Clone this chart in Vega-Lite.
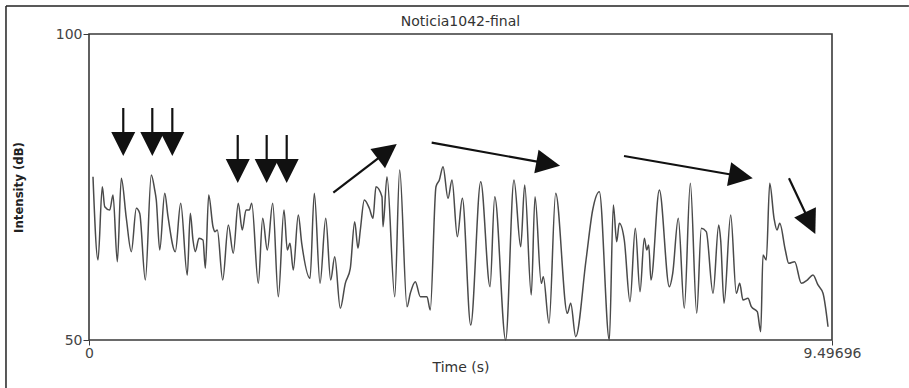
{
  "$schema": "https://vega.github.io/schema/vega-lite/v6.json",
  "width": 743,
  "height": 306,
  "autosize": {"type": "none"},
  "padding": {"left": 89, "top": 34, "right": 77, "bottom": 48},
  "background": "white",
  "config": {
    "view": {"stroke": "#3a3a3a", "strokeWidth": 1.6},
    "font": "DejaVu Sans"
  },
  "title": {"text": "Noticia1042-final", "fontSize": 14, "fontWeight": "normal", "color": "#333", "offset": 0, "dy": 24, "anchor": "middle", "font": "DejaVu Sans"},
  "datasets": {
    "curve": [
      {"t":0.051,"db":76.68},{"t":0.115,"db":63.07},{"t":0.170,"db":75.05},{"t":0.201,"db":71.78},{"t":0.265,"db":71.24},{"t":0.307,"db":73.69},{"t":0.362,"db":62.79},{"t":0.413,"db":76.42},{"t":0.477,"db":69.89},{"t":0.541,"db":64.43},{"t":0.605,"db":71.52},{"t":0.648,"db":70.70},{"t":0.720,"db":59.80},{"t":0.796,"db":76.96},{"t":0.840,"db":74.51},{"t":0.860,"db":72.88},{"t":0.904,"db":64.71},{"t":0.968,"db":73.97},{"t":1.010,"db":70.15},{"t":1.103,"db":64.43},{"t":1.172,"db":72.34},{"t":1.256,"db":60.62},{"t":1.295,"db":70.70},{"t":1.329,"db":66.34},{"t":1.359,"db":64.43},{"t":1.406,"db":66.62},{"t":1.457,"db":66.34},{"t":1.487,"db":61.72},{"t":1.530,"db":73.69},{"t":1.585,"db":68.51},{"t":1.611,"db":67.70},{"t":1.640,"db":67.97},{"t":1.709,"db":59.80},{"t":1.781,"db":68.79},{"t":1.844,"db":64.17},{"t":1.908,"db":72.34},{"t":1.959,"db":67.97},{"t":2.007,"db":71.24},{"t":2.049,"db":71.24},{"t":2.080,"db":72.34},{"t":2.164,"db":59.26},{"t":2.220,"db":69.89},{"t":2.279,"db":64.71},{"t":2.348,"db":72.34},{"t":2.420,"db":57.07},{"t":2.492,"db":71.24},{"t":2.535,"db":64.71},{"t":2.569,"db":65.80},{"t":2.611,"db":61.44},{"t":2.675,"db":70.42},{"t":2.719,"db":65.80},{"t":2.825,"db":60.08},{"t":2.880,"db":73.97},{"t":2.953,"db":59.26},{"t":3.026,"db":69.89},{"t":3.089,"db":59.80},{"t":3.141,"db":63.61},{"t":3.212,"db":55.18},{"t":3.276,"db":59.26},{"t":3.340,"db":61.72},{"t":3.396,"db":69.33},{"t":3.438,"db":64.98},{"t":3.468,"db":67.97},{"t":3.519,"db":72.88},{"t":3.583,"db":71.52},{"t":3.630,"db":69.89},{"t":3.668,"db":75.05},{"t":3.745,"db":73.41},{"t":3.758,"db":68.51},{"t":3.809,"db":76.68},{"t":3.908,"db":57.07},{"t":3.971,"db":77.78},{"t":4.065,"db":55.44},{"t":4.107,"db":57.63},{"t":4.171,"db":59.53},{"t":4.235,"db":57.07},{"t":4.320,"db":57.07},{"t":4.362,"db":54.90},{"t":4.435,"db":75.05},{"t":4.478,"db":76.14},{"t":4.525,"db":78.32},{"t":4.589,"db":73.15},{"t":4.640,"db":76.14},{"t":4.708,"db":66.88},{"t":4.772,"db":73.15},{"t":4.879,"db":52.45},{"t":5.007,"db":75.87},{"t":5.126,"db":58.71},{"t":5.186,"db":73.41},{"t":5.326,"db":50.00},{"t":5.432,"db":76.14},{"t":5.518,"db":65.24},{"t":5.569,"db":75.33},{"t":5.653,"db":57.35},{"t":5.701,"db":73.41},{"t":5.781,"db":59.26},{"t":5.807,"db":60.34},{"t":5.880,"db":52.73},{"t":5.965,"db":73.97},{"t":6.114,"db":54.36},{"t":6.157,"db":56.00},{"t":6.221,"db":50.54},{"t":6.353,"db":63.07},{"t":6.438,"db":71.24},{"t":6.523,"db":74.23},{"t":6.651,"db":50.00},{"t":6.702,"db":72.06},{"t":6.745,"db":66.06},{"t":6.778,"db":69.07},{"t":6.842,"db":66.34},{"t":6.915,"db":56.26},{"t":6.983,"db":68.25},{"t":7.043,"db":57.89},{"t":7.098,"db":66.62},{"t":7.129,"db":64.71},{"t":7.154,"db":65.52},{"t":7.183,"db":59.80},{"t":7.290,"db":74.51},{"t":7.418,"db":58.71},{"t":7.461,"db":60.90},{"t":7.532,"db":69.89},{"t":7.609,"db":55.18},{"t":7.686,"db":75.60},{"t":7.768,"db":54.36},{"t":7.827,"db":68.25},{"t":7.890,"db":67.70},{"t":7.976,"db":57.63},{"t":8.049,"db":68.79},{"t":8.074,"db":66.34},{"t":8.117,"db":56.00},{"t":8.202,"db":70.42},{"t":8.274,"db":57.63},{"t":8.317,"db":59.26},{"t":8.359,"db":56.54},{"t":8.423,"db":56.81},{"t":8.466,"db":55.44},{"t":8.542,"db":54.62},{"t":8.586,"db":51.36},{"t":8.615,"db":63.89},{"t":8.657,"db":63.07},{"t":8.701,"db":75.60},{"t":8.756,"db":69.89},{"t":8.794,"db":67.97},{"t":8.829,"db":69.07},{"t":8.900,"db":64.71},{"t":8.944,"db":62.53},{"t":9.020,"db":62.79},{"t":9.105,"db":59.26},{"t":9.181,"db":59.80},{"t":9.254,"db":60.62},{"t":9.318,"db":58.99},{"t":9.382,"db":57.63},{"t":9.446,"db":52.17}
    ],
    "arrows": [
      {"t":0.438,"db":87.91,"t2":0.438,"db2":82.03,"dir":180},
      {"t":0.809,"db":87.91,"t2":0.809,"db2":82.03,"dir":180},
      {"t":1.065,"db":87.91,"t2":1.065,"db2":82.03,"dir":180},
      {"t":1.901,"db":83.50,"t2":1.901,"db2":77.61,"dir":180},
      {"t":2.271,"db":83.50,"t2":2.271,"db2":77.61,"dir":180},
      {"t":2.527,"db":83.50,"t2":2.527,"db2":77.61,"dir":180},
      {"t":3.123,"db":74.07,"t2":3.812,"db2":80.83,"dir":52.5},
      {"t":4.380,"db":82.24,"t2":5.870,"db2":78.82,"dir":100.2},
      {"t":6.838,"db":80.07,"t2":8.333,"db2":76.76,"dir":99.8},
      {"t":8.947,"db":76.42,"t2":9.218,"db2":69.08,"dir":154.7}
    ],
    "frame": [
      {"t":-1.061,"db":104.58,"t2":10.48,"db2":104.58},
      {"t":-1.061,"db":104.58,"t2":-1.061,"db2":42.16}
    ]
  },
  "layer": [
    {
      "data": {"name": "frame"},
      "mark": {"type": "rule", "color": "#222", "strokeWidth": 1.5, "clip": false},
      "encoding": {
        "x": {"field": "t", "type": "quantitative"},
        "x2": {"field": "t2"},
        "y": {"field": "db", "type": "quantitative"},
        "y2": {"field": "db2"}
      }
    },
    {
      "data": {"name": "curve"},
      "mark": {"type": "line", "color": "#4a4a4a", "strokeWidth": 1.5, "interpolate": "monotone"},
      "encoding": {
        "x": {
          "field": "t", "type": "quantitative",
          "scale": {"domain": [0, 9.49696], "nice": false, "zero": false},
          "axis": {
            "values": [0, 9.49696], "format": ".6~g", "title": "Time (s)",
            "domain": false, "ticks": true, "tickSize": 5, "tickColor": "#3a3a3a",
            "grid": false, "labelFontSize": 14, "labelColor": "#444", "labelPadding": 1,
            "labelFont": "DejaVu Sans", "labelFlush": false,
            "titleFontSize": 14, "titleFontWeight": "normal", "titleColor": "#333",
            "titleFont": "DejaVu Sans", "titleY": 27, "titleBaseline": "middle"
          }
        },
        "y": {
          "field": "db", "type": "quantitative",
          "scale": {"domain": [50, 100], "nice": false, "zero": false},
          "axis": {
            "values": [50, 100], "format": "d", "title": "Intensity (dB)",
            "domain": false, "ticks": true, "tickSize": 6, "tickColor": "#3a3a3a",
            "grid": false, "labelFontSize": 14, "labelColor": "#444", "labelPadding": 1,
            "labelFont": "DejaVu Sans", "labelFlush": false,
            "titleFontSize": 13, "titleFontWeight": "bold", "titleColor": "#222",
            "titleFont": "Liberation Sans Narrow, DejaVu Sans Condensed",
            "titleX": -71, "titleY": 153, "titleAlign": "center", "titleBaseline": "middle"
          }
        }
      }
    },
    {
      "data": {"name": "arrows"},
      "mark": {"type": "rule", "color": "#111", "strokeWidth": 2.2, "clip": false},
      "encoding": {
        "x": {"field": "t", "type": "quantitative"},
        "x2": {"field": "t2"},
        "y": {"field": "db", "type": "quantitative"},
        "y2": {"field": "db2"}
      }
    },
    {
      "data": {"name": "arrows"},
      "mark": {"type": "point", "shape": "M0,-1L-1,1L1,1Z", "filled": true, "color": "#111", "opacity": 1, "size": 576, "strokeWidth": 0},
      "encoding": {
        "x": {"field": "t2", "type": "quantitative"},
        "y": {"field": "db2", "type": "quantitative"},
        "angle": {"field": "dir", "type": "quantitative", "scale": null}
      }
    }
  ]
}
